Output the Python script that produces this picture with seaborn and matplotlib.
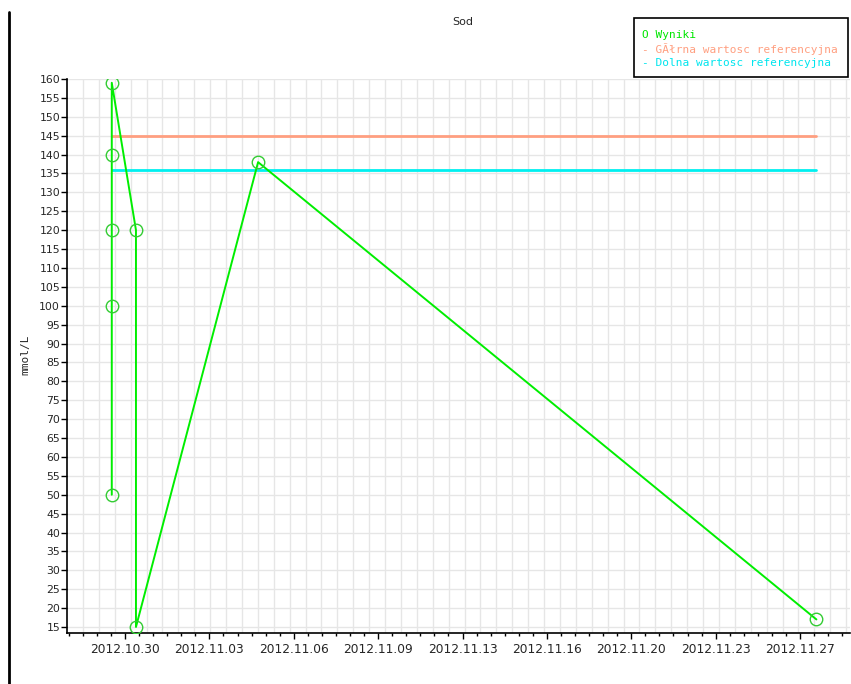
import numpy as np
import pandas as pd
import matplotlib
matplotlib.use("Agg")
import matplotlib.pyplot as plt
import matplotlib.dates as mdates
from matplotlib.lines import Line2D
from matplotlib.patches import Rectangle
import seaborn as sns

# ---- data ----
dates = ["2012-10-29 10:50", "2012-10-29 10:50", "2012-10-29 10:50", "2012-10-29 10:50",
         "2012-10-29 10:50", "2012-10-30 10:55", "2012-10-30 10:55", "2012-11-04 12:30",
         "2012-11-27 16:20"]
values = [50, 100, 120, 140, 159, 120, 15, 138, 17]
upper_ref = 145
lower_ref = 136
x_tick_labels = ["2012.10.30", "2012.11.03", "2012.11.06", "2012.11.09", "2012.11.13",
                 "2012.11.16", "2012.11.20", "2012.11.23", "2012.11.27"]
y_ticks = list(range(15, 161, 5))
legend_labels = ["O Wyniki", "- GÃłrna wartosc referencyjna", "- Dolna wartosc referencyjna"]
legend_colors = ["#00e600", "#ff9f80", "#00e5ee"]
title = "Sod"
y_label = "mmol/L"

df = pd.DataFrame({"date": pd.to_datetime(dates), "value": values})
df["x"] = mdates.date2num(df["date"])

W, H = 851, 684
sns.set_theme(style="white")
fig = plt.figure(figsize=(W / 100, H / 100), dpi=100)
ax = fig.add_axes([67 / W, (H - 633) / H, (850 - 67) / W, (633 - 79) / H])

t0 = mdates.date2num(pd.Timestamp("2012-10-30 00:00"))
day_px = 675 / 28.0
x_left = t0 + (67 - 125) / day_px
x_right = t0 + (850 - 125) / day_px
ax.set_xlim(x_left, x_right)
ax.set_ylim(15 - 6 / 3.779, 160)

# background grid (vertical uniform spacing, horizontal at y ticks)
gstep = 15.9 / day_px
gx = x_left + np.arange(1, 60) * gstep
for g in gx[gx < x_right]:
    ax.axvline(g, color="#e6e6e6", lw=1, zorder=0)
for yv in y_ticks:
    ax.axhline(yv, color="#e6e6e6", lw=1, zorder=0)

# reference lines
xmin, xmax = df["x"].min(), df["x"].max()
ax.plot([xmin, xmax], [upper_ref, upper_ref], color="#ff9f80", lw=2, zorder=2)
ax.plot([xmin, xmax], [lower_ref, lower_ref], color="#00f0f0", lw=2, zorder=2)

# results
sns.lineplot(data=df, x="x", y="value", sort=False, estimator=None, ax=ax,
             color="#00ee00", lw=1.4, marker="o", markersize=9,
             markerfacecolor="none", markeredgecolor="#33cc33", markeredgewidth=1.0,
             zorder=3)

major = [t0 + 3.5 * i for i in range(len(x_tick_labels))]
ax.set_xticks(major)
ax.set_xticklabels(x_tick_labels, fontsize=8.8, family="DejaVu Sans")
minor = [t0 + 3.5 / 6 * i for i in range(-4, 55)]
minor = [m for m in minor if x_left < m < x_right]
ax.set_xticks(minor, minor=True)
ax.set_yticks(y_ticks)
ax.set_yticklabels([str(v) for v in y_ticks], fontsize=7.8, family="DejaVu Sans")

ax.tick_params(axis="x", which="major", length=4, width=1, color="black", direction="out",
               pad=3, bottom=True)
ax.tick_params(axis="x", which="minor", length=2, width=1, color="black", direction="out",
               bottom=True)
ax.tick_params(axis="y", which="major", length=4, width=1, color="black", direction="out",
               pad=1, left=True)
for s in ["top", "right"]:
    ax.spines[s].set_visible(False)
for s in ["left", "bottom"]:
    ax.spines[s].set_color("black")
    ax.spines[s].set_linewidth(1.2)
ax.set_xlabel("")
ax.set_ylabel("")
ax.grid(False)

fig.text(25 / W, 1 - 355 / H, y_label, rotation=90, ha="center", va="center",
         fontsize=8, family="DejaVu Sans Mono")
fig.text(463 / W, 1 - 22 / H, title, ha="center", va="center", fontsize=8,
         family="DejaVu Sans")

# legend box
fig.patches.append(Rectangle((634 / W, 1 - 77 / H), (848 - 634) / W, (77 - 18) / H,
                             transform=fig.transFigure, facecolor="white",
                             edgecolor="black", lw=1.2, zorder=5))
for i, (lab, col) in enumerate(zip(legend_labels, legend_colors)):
    fig.text(642 / W, 1 - (35 + 14 * i) / H, lab, color=col, ha="left", va="center",
             fontsize=8, family="DejaVu Sans Mono", zorder=6)

# left border line
fig.add_artist(Line2D([9 / W, 9 / W], [0, 1 - 12 / H], transform=fig.transFigure,
                      color="black", lw=2))

fig.savefig("out.png", dpi=100)
